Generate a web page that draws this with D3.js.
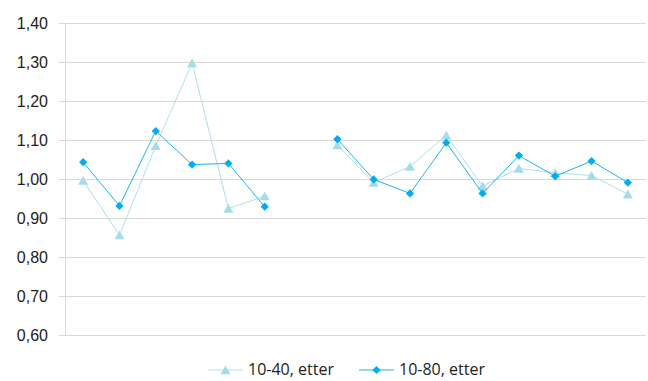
<!DOCTYPE html>
<html>
<head>
<meta charset="utf-8">
<script src="https://cdn.jsdelivr.net/npm/d3@7"></script>
<style>
  html, body { margin: 0; padding: 0; background: #fff; }
  svg { display: block; font-family: "Open Sans", Lato, "Liberation Sans", sans-serif; }
</style>
</head>
<body>
<svg id="chart" width="648" height="381"></svg>
<script>
// Category slots along the x axis (slot 6 is left empty)
const categories = d3.range(16);

// Series values (null = no measurement)
const etter1040 = [0.996, 0.856, 1.085, 1.297, 0.924, 0.956, null,
                   1.087, 0.991, 1.032, 1.112, 0.982, 1.027, 1.016, 1.009, 0.961];
const etter1080 = [1.043, 0.931, 1.123, 1.037, 1.040, 0.929, null,
                   1.102, 0.999, 0.963, 1.093, 0.963, 1.060, 1.007, 1.046, 0.991];

const seriesNames = ["10-40, etter", "10-80, etter"];
const yTicks = [0.6, 0.7, 0.8, 0.9, 1.0, 1.1, 1.2, 1.3, 1.4];

const colors = { tri: "#a6dbe8", dia: "#00aeef" };

const margin = { left: 65, right: 2, top: 23, bottom: 46 };
const W = 648, H = 381;
const svg = d3.select("#chart");

const x = d3.scaleBand().domain(categories).range([margin.left, W - margin.right]);
const y = d3.scaleLinear().domain([0.6, 1.4]).range([H - margin.bottom, margin.top]);
const fmt = v => d3.format(".2f")(v).replace(".", ",");

// Horizontal gridlines with tick labels
const yAxis = d3.axisLeft(y).tickValues(yTicks).tickFormat(fmt)
  .tickSize(0).tickPadding(11);
const gy = svg.append("g")
  .attr("transform", `translate(${margin.left - 6},0)`)
  .call(yAxis);
gy.select(".domain").remove();
gy.selectAll(".tick line").attr("stroke", "#d9d9d9").attr("stroke-width", 1)
  .attr("x1", 0).attr("x2", W - margin.right - margin.left + 6);
gy.selectAll(".tick text").attr("fill", "#222").attr("font-size", 16).attr("dy", "0.34em");

// Vertical axis line
svg.append("line")
  .attr("x1", margin.left + 0.5).attr("x2", margin.left + 0.5)
  .attr("y1", y(1.4)).attr("y2", y(0.6))
  .attr("stroke", "#d9d9d9");

const cx = i => x(i) + x.bandwidth() / 2;

const line = d3.line()
  .defined(d => d.v != null)
  .x(d => cx(d.i)).y(d => y(d.v));

// Triangle marker centred on its bounding box
const triPath = "M0,-4.6L5,4.2L-5,4.2Z";
const dia = d3.symbol().type(d3.symbolSquare).size(34);

function drawSeries(vals, color, kind) {
  const pts = vals.map((v, i) => ({ i, v }));
  svg.append("path").datum(pts)
    .attr("fill", "none").attr("stroke", color).attr("stroke-width", 0.9)
    .attr("d", line);
  svg.append("g").selectAll("path").data(pts.filter(d => d.v != null)).join("path")
    .attr("transform", d => `translate(${cx(d.i)},${y(d.v)})${kind === "dia" ? " rotate(45)" : ""}`)
    .attr("d", kind === "dia" ? dia : triPath)
    .attr("fill", color);
}

drawSeries(etter1040, colors.tri, "tri");
drawSeries(etter1080, colors.dia, "dia");

// Legend
const legend = svg.append("g").attr("font-size", 16).attr("fill", "#222");
const items = [
  { name: seriesNames[0], color: colors.tri, kind: "tri", x0: 208 },
  { name: seriesNames[1], color: colors.dia, kind: "dia", x0: 359 }
];
const ly = 370;
items.forEach(it => {
  legend.append("line")
    .attr("x1", it.x0).attr("x2", it.x0 + 35).attr("y1", ly).attr("y2", ly)
    .attr("stroke", it.color).attr("stroke-width", 0.9);
  legend.append("path")
    .attr("transform", `translate(${it.x0 + 17.5},${ly})${it.kind === "dia" ? " rotate(45)" : ""}`)
    .attr("d", it.kind === "dia" ? dia : triPath)
    .attr("fill", it.color);
  legend.append("text")
    .attr("x", it.x0 + 40).attr("y", ly).attr("dy", "0.34em")
    .attr("fill", "#222")
    .text(it.name);
});
</script>
</body>
</html>
